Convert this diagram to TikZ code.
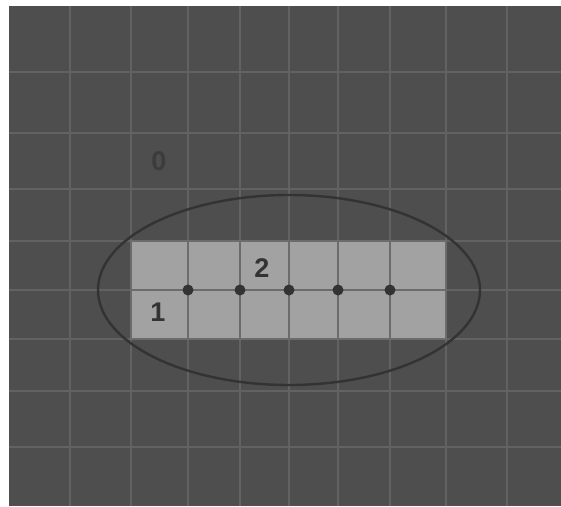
\documentclass[tikz,border=0pt]{standalone}
\usepackage{fontspec}
\setmainfont{Liberation Sans}
\begin{document}
\begin{tikzpicture}[x=1pt,y=-1pt,
  gridline/.style={draw=gridc,line width=1.1pt},
  cellline/.style={draw=cellc,line width=1.3pt},
  dotnode/.style={circle,fill=dotc,inner sep=0pt,minimum size=11pt},
  lbl/.style={font=\fontsize{27}{27}\selectfont\bfseries,text=lblc,inner sep=0pt}]
\definecolor{bgc}{HTML}{4E4E4E}
\definecolor{gridc}{HTML}{626262}
\definecolor{cellc}{HTML}{6C6C6C}
\definecolor{fillc}{HTML}{A2A2A2}
\definecolor{dotc}{HTML}{333333}
\definecolor{lblc}{HTML}{333333}
\definecolor{zeroc}{HTML}{3C3C3C}
\useasboundingbox (0,0) rectangle (561,506);
\fill[white] (0,0) rectangle (561,506);
\fill[bgc] (9,6) rectangle (561,506);
% grid
\foreach \x in {70,131,188,240,289,338,390,446,507}
  \draw[gridline] (\x,6) -- (\x,506);
\foreach \y in {72,133,189,241,290,339,391,447}
  \draw[gridline] (9,\y) -- (561,\y);
% light block
\fill[fillc] (131,241) rectangle (446,339);
\foreach \x in {188,240,289,338,390}
  \draw[cellline] (\x,241) -- (\x,339);
\draw[cellline] (131,290) -- (446,290);
\draw[cellline] (131,241) rectangle (446,339);
% ellipse
\draw[draw=dotc,line width=2.4pt] (289,290) ellipse [x radius=191, y radius=95];
% dots
\node[dotnode] (d1) at (188,290) {};
\node[dotnode] (d2) at (240,290) {};
\node[dotnode] (d3) at (289,290) {};
\node[dotnode] (d4) at (338,290) {};
\node[dotnode] (d5) at (390,290) {};
% labels
\node[lbl,text=zeroc] (l0) at (159,161) {0};
\node[lbl] (l1) at (158,312) {1};
\node[lbl] (l2) at (262,268) {2};
\end{tikzpicture}
\end{document}
